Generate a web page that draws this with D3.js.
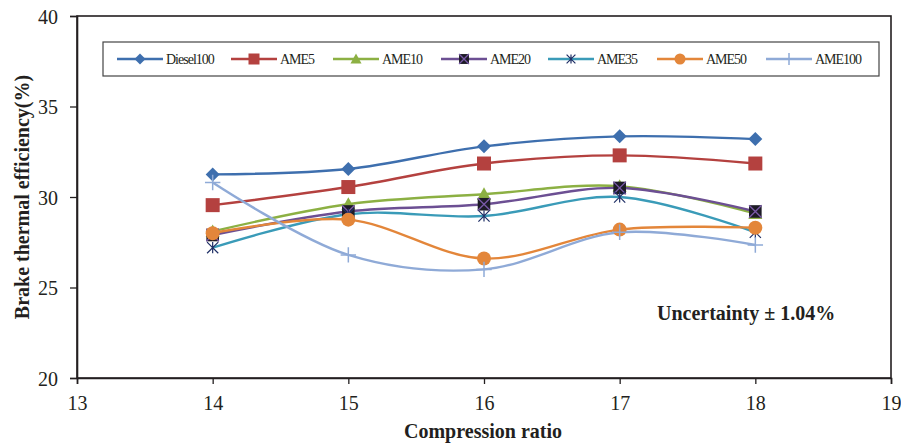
<!DOCTYPE html>
<html>
<head>
<meta charset="utf-8">
<script src="https://cdn.jsdelivr.net/npm/d3@7"></script>
<style>
  html, body { margin: 0; padding: 0; background: #fff; }
  svg { display: block; }
  text { font-family: "Liberation Serif", "Times New Roman", serif; fill: #231f20; }
</style>
</head>
<body>
<svg id="chart" width="901" height="446"></svg>
<script>
// Compression ratio on the x axis
const ratios = [14, 15, 16, 17, 18];

// Brake thermal efficiency (%) per fuel blend
const diesel100 = [31.25, 31.55, 32.8, 33.35, 33.2];
const ame5      = [29.55, 30.55, 31.85, 32.3, 31.85];
const ame10     = [28.1, 29.6, 30.15, 30.6, 29.1];
const ame20     = [27.9, 29.2, 29.6, 30.5, 29.2];
const ame35     = [27.2, 29.05, 28.95, 30.0, 28.05];
const ame50     = [28.0, 28.75, 26.6, 28.2, 28.3];
const ame100    = [30.8, 26.8, 26.0, 28.05, 27.35];

const seriesNames = ["Diesel100", "AME5", "AME10", "AME20", "AME35", "AME50", "AME100"];
const seriesValues = [diesel100, ame5, ame10, ame20, ame35, ame50, ame100];

const xTicks = [13, 14, 15, 16, 17, 18, 19];
const yTicks = [20, 25, 30, 35, 40];

const styles = [
  { line: "#3e6fae", marker: "diamond", fill: "#3e6fae" },
  { line: "#b4413f", marker: "square",  fill: "#b4413f" },
  { line: "#8cb043", marker: "triangle", fill: "#8cb043" },
  { line: "#6c4f93", marker: "xsquare", fill: "#1d1b26", stroke: "#7a5aa8" },
  { line: "#3a9bb8", marker: "x",       stroke: "#1f2f66" },
  { line: "#e3863a", marker: "circle",  fill: "#e3863a" },
  { line: "#8faad7", marker: "plus",    stroke: "#8faad7" }
];

const svg = d3.select("#chart");
const plotL = 77, plotR = 891, plotT = 16, plotB = 378;

const x = d3.scaleLinear().domain([13, 19]).range([plotL, plotR]);
const y = d3.scaleLinear().domain([20, 40]).range([plotB, plotT]);

// plot frame
svg.append("rect")
  .attr("x", plotL).attr("y", plotT)
  .attr("width", plotR - plotL).attr("height", plotB - plotT)
  .attr("fill", "none").attr("stroke", "#231f20").attr("stroke-width", 1.6);

// y axis
const yAxis = svg.append("g")
  .attr("transform", `translate(${plotL},0)`)
  .call(d3.axisLeft(y).tickValues(yTicks).tickSize(7).tickPadding(12).tickFormat(d3.format("d")));
yAxis.attr("font-family", null).attr("font-size", null);
yAxis.select(".domain").attr("stroke", "#231f20").attr("stroke-width", 1.6);
yAxis.selectAll(".tick line").attr("stroke", "#231f20").attr("stroke-width", 1.3);
yAxis.selectAll(".tick text").style("font-size", "20px").attr("fill", "#231f20").attr("dy", "0.35em");

// x axis
const xAxis = svg.append("g")
  .attr("transform", `translate(0,${plotB})`)
  .call(d3.axisBottom(x).tickValues(xTicks).tickSize(6).tickFormat(d3.format("d")));
xAxis.attr("font-family", null).attr("font-size", null);
xAxis.select(".domain").attr("stroke", "#231f20").attr("stroke-width", 1.6);
xAxis.selectAll(".tick line").attr("stroke", "#231f20").attr("stroke-width", 1.3);
xAxis.selectAll(".tick text").style("font-size", "20px").attr("fill", "#231f20")
  .attr("y", 32).attr("dy", "0");

// axis titles
svg.append("text")
  .attr("x", 483).attr("y", 438)
  .attr("text-anchor", "middle")
  .style("font-size", "20px").style("font-weight", "bold")
  .text("Compression ratio");

svg.append("text")
  .attr("transform", `translate(29,${(plotT + plotB) / 2}) rotate(-90)`)
  .attr("text-anchor", "middle")
  .style("font-size", "20px").style("font-weight", "bold")
  .text("Brake thermal efficiency(%)");

// note
svg.append("text")
  .attr("x", 657).attr("y", 320)
  .style("font-size", "20px").style("font-weight", "bold")
  .text("Uncertainty ± 1.04%");

// marker drawing
function drawMarker(g, kind, st, size) {
  const s = size;
  if (kind === "diamond") {
    g.append("path").attr("d", `M0,${-s}L${s},0L0,${s}L${-s},0Z`).attr("fill", st.fill);
  } else if (kind === "square") {
    g.append("rect").attr("x", -s).attr("y", -s).attr("width", 2 * s).attr("height", 2 * s).attr("fill", st.fill);
  } else if (kind === "triangle") {
    g.append("path").attr("d", `M0,${-s}L${s},${s * 0.8}L${-s},${s * 0.8}Z`).attr("fill", st.fill);
  } else if (kind === "xsquare") {
    const r = s * 0.9;
    g.append("rect").attr("x", -r).attr("y", -r).attr("width", 2 * r).attr("height", 2 * r).attr("fill", st.fill);
    g.append("path").attr("d", `M${-r},${-r}L${r},${r}M${r},${-r}L${-r},${r}`)
      .attr("stroke", st.stroke).attr("stroke-width", 1.3);
  } else if (kind === "x") {
    const r = s * 0.8;
    g.append("path").attr("d", `M${-r},${-r}L${r},${r}M${r},${-r}L${-r},${r}M0,${-r}L0,${r}`)
      .attr("stroke", st.stroke).attr("stroke-width", 1.2).attr("fill", "none");
  } else if (kind === "circle") {
    g.append("circle").attr("r", s).attr("fill", st.fill);
  } else if (kind === "plus") {
    const r = s * 1.1;
    g.append("path").attr("d", `M${-r},0L${r},0M0,${-r}L0,${r}`)
      .attr("stroke", st.stroke).attr("stroke-width", 1.5);
  }
}

const line = d3.line()
  .x((d, i) => x(ratios[i]))
  .y(d => y(d))
  .curve(d3.curveCatmullRom.alpha(0.5));

seriesValues.forEach((vals, k) => {
  const st = styles[k];
  svg.append("path")
    .datum(vals)
    .attr("d", line)
    .attr("fill", "none")
    .attr("stroke", st.line)
    .attr("stroke-width", 2.4);
});

seriesValues.forEach((vals, k) => {
  const st = styles[k];
  vals.forEach((v, i) => {
    const g = svg.append("g").attr("transform", `translate(${x(ratios[i])},${y(v)})`);
    drawMarker(g, st.marker, st, 7);
  });
});

// legend
const legend = svg.append("g");
legend.append("rect")
  .attr("x", 103).attr("y", 42).attr("width", 776).attr("height", 34)
  .attr("fill", "#fff").attr("stroke", "#444").attr("stroke-width", 1.2);

const legendX = [117, 231, 333, 441, 548, 657, 766];
seriesNames.forEach((name, k) => {
  const st = styles[k];
  const g = legend.append("g").attr("transform", `translate(${legendX[k]},59)`);
  g.append("line").attr("x1", 0).attr("x2", 46).attr("y1", 0).attr("y2", 0)
    .attr("stroke", st.line).attr("stroke-width", 2.6);
  const m = g.append("g").attr("transform", "translate(23,0)");
  drawMarker(m, st.marker, st, 5.5);
  g.append("text").attr("x", 49).attr("y", 5)
    .style("font-size", "14px").style("letter-spacing", "-1px")
    .text(name);
});
</script>
</body>
</html>
